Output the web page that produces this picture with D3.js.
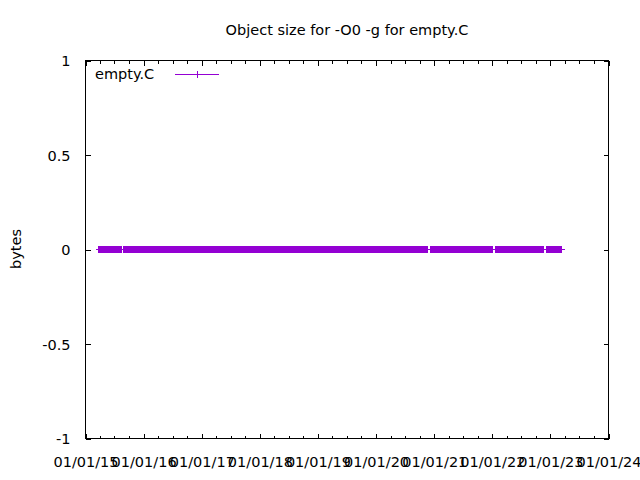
<!DOCTYPE html>
<html>
<head>
<meta charset="utf-8">
<script src="https://cdn.jsdelivr.net/npm/d3@7"></script>
<style>
  html, body { margin: 0; padding: 0; background: #fff; }
  svg { display: block; }
  text { font-family: "DejaVu Sans", sans-serif; font-size: 14.5px; fill: #000; }
</style>
</head>
<body>
<svg id="chart" width="640" height="480"></svg>
<script>
// ---- data (days since 2015-01-01, object size in bytes) ----
const baseDate = "2015-01-01";
const dayOffsets = [
  85, 95, 106, 117, 127, 138, 149, 159, 170, 181, 191, 202, 211, 220,
  239, 248, 260, 270, 279, 291, 301, 310, 322, 333,
  342, 353, 365, 374, 384, 396, 405, 416, 427, 436,
  447, 459, 468, 478, 490, 499, 510, 521, 530, 541,
  553, 562, 572, 584, 593, 604, 615, 624, 635, 647,
  656, 666, 678, 687, 698, 709, 718, 729, 741, 750,
  760, 772, 781, 792, 803, 812, 823, 835, 844, 854,
  866, 875, 886, 897, 906, 917, 929, 938, 948, 960,
  969, 980, 991, 1000, 1011, 1023, 1032, 1042, 1054, 1063,
  1074, 1085, 1094, 1105, 1117, 1126, 1136, 1148, 1157, 1168,
  1179, 1188, 1199, 1211, 1220, 1230, 1242, 1251, 1262, 1273,
  1282, 1293, 1305, 1314, 1324, 1336, 1345, 1356, 1367, 1376,
  1387, 1399, 1408, 1418, 1430, 1439, 1450, 1461, 1470, 1481,
  1493, 1502, 1512, 1524, 1533, 1544, 1555, 1564, 1575, 1587,
  1596, 1606, 1618, 1627, 1638, 1649, 1658, 1669, 1681, 1690,
  1700, 1712, 1721, 1732, 1743, 1752, 1763, 1775, 1784, 1794,
  1806, 1815, 1826, 1837, 1846, 1857, 1869, 1878, 1888, 1900,
  1909, 1920, 1931, 1940, 1951, 1963, 1972, 1982, 1994, 2003,
  2014, 2025, 2034, 2045, 2057, 2066, 2076, 2088, 2097, 2108,
  2119, 2128, 2136, 2144,
  2169, 2180, 2189, 2200, 2211, 2220, 2231, 2243, 2252, 2262,
  2274, 2283, 2294, 2305, 2314, 2325, 2337, 2346, 2356, 2368,
  2377, 2388, 2399, 2408, 2419, 2431, 2440, 2450, 2462, 2471,
  2482, 2493, 2502, 2513, 2525, 2534, 2544, 2552,
  2578, 2588, 2599, 2610, 2619, 2630, 2642, 2651, 2661, 2673,
  2682, 2693, 2704, 2713, 2724, 2736, 2745, 2755, 2767, 2776,
  2787, 2798, 2807, 2818, 2830, 2839, 2849, 2861, 2869, 2876,
  2901, 2911, 2922, 2931, 2942, 2953, 2962, 2972, 2982, 2990
];
const byteSizes = [
  0, 0, 0, 0, 0, 0, 0, 0, 0, 0, 0, 0, 0, 0,
  0, 0, 0, 0, 0, 0, 0, 0, 0, 0,
  0, 0, 0, 0, 0, 0, 0, 0, 0, 0,
  0, 0, 0, 0, 0, 0, 0, 0, 0, 0,
  0, 0, 0, 0, 0, 0, 0, 0, 0, 0,
  0, 0, 0, 0, 0, 0, 0, 0, 0, 0,
  0, 0, 0, 0, 0, 0, 0, 0, 0, 0,
  0, 0, 0, 0, 0, 0, 0, 0, 0, 0,
  0, 0, 0, 0, 0, 0, 0, 0, 0, 0,
  0, 0, 0, 0, 0, 0, 0, 0, 0, 0,
  0, 0, 0, 0, 0, 0, 0, 0, 0, 0,
  0, 0, 0, 0, 0, 0, 0, 0, 0, 0,
  0, 0, 0, 0, 0, 0, 0, 0, 0, 0,
  0, 0, 0, 0, 0, 0, 0, 0, 0, 0,
  0, 0, 0, 0, 0, 0, 0, 0, 0, 0,
  0, 0, 0, 0, 0, 0, 0, 0, 0, 0,
  0, 0, 0, 0, 0, 0, 0, 0, 0, 0,
  0, 0, 0, 0, 0, 0, 0, 0, 0, 0,
  0, 0, 0, 0, 0, 0, 0, 0, 0, 0,
  0, 0, 0, 0,
  0, 0, 0, 0, 0, 0, 0, 0, 0, 0,
  0, 0, 0, 0, 0, 0, 0, 0, 0, 0,
  0, 0, 0, 0, 0, 0, 0, 0, 0, 0,
  0, 0, 0, 0, 0, 0, 0, 0,
  0, 0, 0, 0, 0, 0, 0, 0, 0, 0,
  0, 0, 0, 0, 0, 0, 0, 0, 0, 0,
  0, 0, 0, 0, 0, 0, 0, 0, 0, 0,
  0, 0, 0, 0, 0, 0, 0, 0, 0, 0
];
const xDomain = ["2015-01-01", "2024-01-01"];
const yDomain = [-1, 1];
const yTickValues = [-1, -0.5, 0, 0.5, 1];
const yTickLabels = ["-1", "-0.5", "0", "0.5", "1"];
const titleText = "Object size for -O0 -g for empty.C";
const yLabelText = "bytes";
const seriesName = "empty.C";

(function () {
  const svg = d3.select("#chart");
  const pL = 85.5, pR = 608.5, pT = 60.5, pB = 438.5;
  const color = "#9400d3";

  const parse = d3.utcParse("%Y-%m-%d");
  const base = parse(baseDate);
  const n = Math.min(dayOffsets.length, byteSizes.length);
  const data = d3.range(n).map(i => ({ date: d3.utcDay.offset(base, dayOffsets[i]), value: byteSizes[i] }));

  const x = d3.scaleUtc().domain(xDomain.map(parse)).range([pL, pR]);
  const y = d3.scaleLinear().domain(yDomain).range([pB, pT]);

  const majorX = d3.utcYear.range(x.domain()[0], d3.utcDay.offset(x.domain()[1], 1));
  const minorX = d3.utcMonth.every(3).range(x.domain()[0], x.domain()[1]).filter(d => d.getUTCMonth() !== 0);
  const fmt = d3.utcFormat("%m/%d/%y");

  const g = svg.append("g").attr("shape-rendering", "crispEdges");

  function styleAxis(sel) {
    sel.select(".domain").remove();
    sel.selectAll(".tick line").attr("stroke", "#000");
  }

  g.append("g").attr("transform", `translate(0,${pB})`)
    .call(d3.axisBottom(x).tickValues(majorX).tickFormat(fmt).tickSizeInner(-5))
    .call(styleAxis)
    .call(s => s.selectAll("text").attr("font-family", null).attr("font-size", null).attr("dy", null).attr("y", 28));
  g.append("g").attr("transform", `translate(0,${pB})`)
    .call(d3.axisBottom(x).tickValues(minorX).tickFormat("").tickSizeInner(-3))
    .call(styleAxis);
  g.append("g").attr("transform", `translate(0,${pT})`)
    .call(d3.axisTop(x).tickValues(majorX).tickFormat("").tickSizeInner(-5))
    .call(styleAxis);
  g.append("g").attr("transform", `translate(0,${pT})`)
    .call(d3.axisTop(x).tickValues(minorX).tickFormat("").tickSizeInner(-3))
    .call(styleAxis);
  g.append("g").attr("transform", `translate(${pL},0)`)
    .call(d3.axisLeft(y).tickValues(yTickValues).tickFormat((d, i) => yTickLabels[i]).tickSizeInner(-5))
    .call(styleAxis)
    .call(s => s.selectAll("text").attr("font-family", null).attr("font-size", null).attr("x", -15).attr("dy", "0.36em"));
  g.append("g").attr("transform", `translate(${pR},0)`)
    .call(d3.axisRight(y).tickValues(yTickValues).tickFormat("").tickSizeInner(-5))
    .call(styleAxis);

  g.append("rect").attr("x", pL).attr("y", pT).attr("width", pR - pL).attr("height", pB - pT)
    .attr("fill", "none").attr("stroke", "#000").attr("stroke-width", 1);

  svg.append("text").attr("x", 347).attr("y", 35).attr("text-anchor", "middle").text(titleText);
  svg.append("text").attr("transform", "translate(21,249) rotate(-90)").attr("text-anchor", "middle").text(yLabelText);

  const line = d3.line().x(d => x(d.date)).y(d => y(d.value));
  svg.append("path").datum(data).attr("d", line).attr("fill", "none").attr("stroke", color).attr("stroke-width", 1)
    .attr("shape-rendering", "crispEdges");

  const pts = svg.append("g").attr("stroke", color).attr("shape-rendering", "crispEdges");
  pts.selectAll("line.h").data(data).join("line").attr("class", "h")
    .attr("x1", d => x(d.date) - 3.5).attr("x2", d => x(d.date) + 3.5)
    .attr("y1", d => y(d.value)).attr("y2", d => y(d.value)).attr("stroke-width", 1);
  pts.selectAll("line.v").data(data).join("line").attr("class", "v")
    .attr("x1", d => x(d.date)).attr("x2", d => x(d.date))
    .attr("y1", d => y(d.value) - 3.5).attr("y2", d => y(d.value) + 3.5).attr("stroke-width", 2);

  svg.append("text").attr("x", 95).attr("y", 79).text(seriesName);
  svg.append("line").attr("x1", 175).attr("x2", 219).attr("y1", 74.5).attr("y2", 74.5)
    .attr("stroke", color).attr("stroke-width", 1).attr("shape-rendering", "crispEdges");
  svg.append("line").attr("x1", 197.5).attr("x2", 197.5).attr("y1", 71).attr("y2", 78)
    .attr("stroke", color).attr("stroke-width", 1).attr("shape-rendering", "crispEdges");
})();
</script>
</body>
</html>
